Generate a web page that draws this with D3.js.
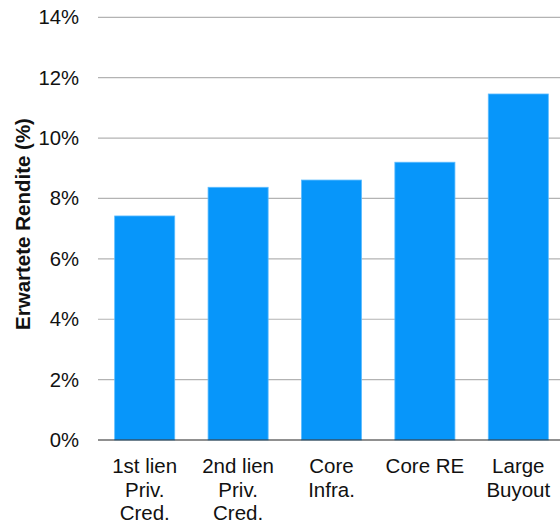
<!DOCTYPE html>
<html>
<head>
<meta charset="utf-8">
<script src="https://cdn.jsdelivr.net/npm/d3@7"></script>
<style>
  html, body { margin: 0; padding: 0; background: #fff; }
  svg { display: block; font-family: "Liberation Sans", Arial, sans-serif; }
</style>
</head>
<body>
<svg id="chart" width="560" height="523"></svg>
<script>
const categories = [
  ["1st lien", "Priv.", "Cred."],
  ["2nd lien", "Priv.", "Cred."],
  ["Core", "Infra."],
  ["Core RE"],
  ["Large", "Buyout"]
];
const values = [7.42, 8.37, 8.61, 9.2, 11.46];
const yTicks = [0, 2, 4, 6, 8, 10, 12, 14];
const yTitle = "Erwartete Rendite (%)";

const svg = d3.select("#chart");
const x0 = 98, x1 = 565, yTop = 17.3, yBottom = 440;

const keys = categories.map((c, i) => i);
const x = d3.scaleBand().domain(keys).range([x0, x1]).paddingInner(0.357).paddingOuter(0.1785);
const y = d3.scaleLinear().domain([0, 14]).range([yBottom, yTop]);

// gridlines
svg.append("g").selectAll("line").data(yTicks.filter(t => t > 0)).join("line")
  .attr("x1", x0).attr("x2", 560)
  .attr("y1", d => y(d)).attr("y2", d => y(d))
  .attr("stroke", "#b3b3b3").attr("stroke-width", 1.2);

// bars
svg.append("g").selectAll("rect").data(values).join("rect")
  .attr("x", (d, i) => x(i))
  .attr("width", x.bandwidth())
  .attr("y", d => y(d))
  .attr("height", d => y(0) - y(d))
  .attr("fill", "#0796fa")
  .attr("stroke", "#5cbcff")
  .attr("stroke-width", 0.8);

// baseline
svg.append("line").attr("x1", x0).attr("x2", 560)
  .attr("y1", y(0)).attr("y2", y(0))
  .attr("stroke", "#222").attr("stroke-width", 1.2);

// y axis labels
const yAxis = d3.axisLeft(y).tickValues(yTicks).tickFormat(d => d + "%").tickSize(0).tickPadding(19);
const ga = svg.append("g").attr("transform", `translate(${x0},0)`).call(yAxis);
ga.select(".domain").remove();
ga.selectAll("text").attr("font-size", 20.3).attr("fill", "#111")
  .attr("font-family", "Liberation Sans, Arial, sans-serif");

// x labels
const gx = svg.append("g");
categories.forEach((lines, i) => {
  const t = gx.append("text")
    .attr("x", x(i) + x.bandwidth() / 2)
    .attr("y", 473)
    .attr("text-anchor", "middle")
    .attr("font-size", 20.5)
    .attr("fill", "#111");
  lines.forEach((ln, j) => {
    t.append("tspan").attr("x", x(i) + x.bandwidth() / 2).attr("dy", j === 0 ? 0 : 23.7).text(ln);
  });
});

// y title
svg.append("text")
  .attr("transform", `translate(30,224) rotate(-90)`)
  .attr("text-anchor", "middle")
  .attr("font-size", 20.5)
  .attr("font-weight", "bold")
  .attr("fill", "#111")
  .text(yTitle);
</script>
</body>
</html>
